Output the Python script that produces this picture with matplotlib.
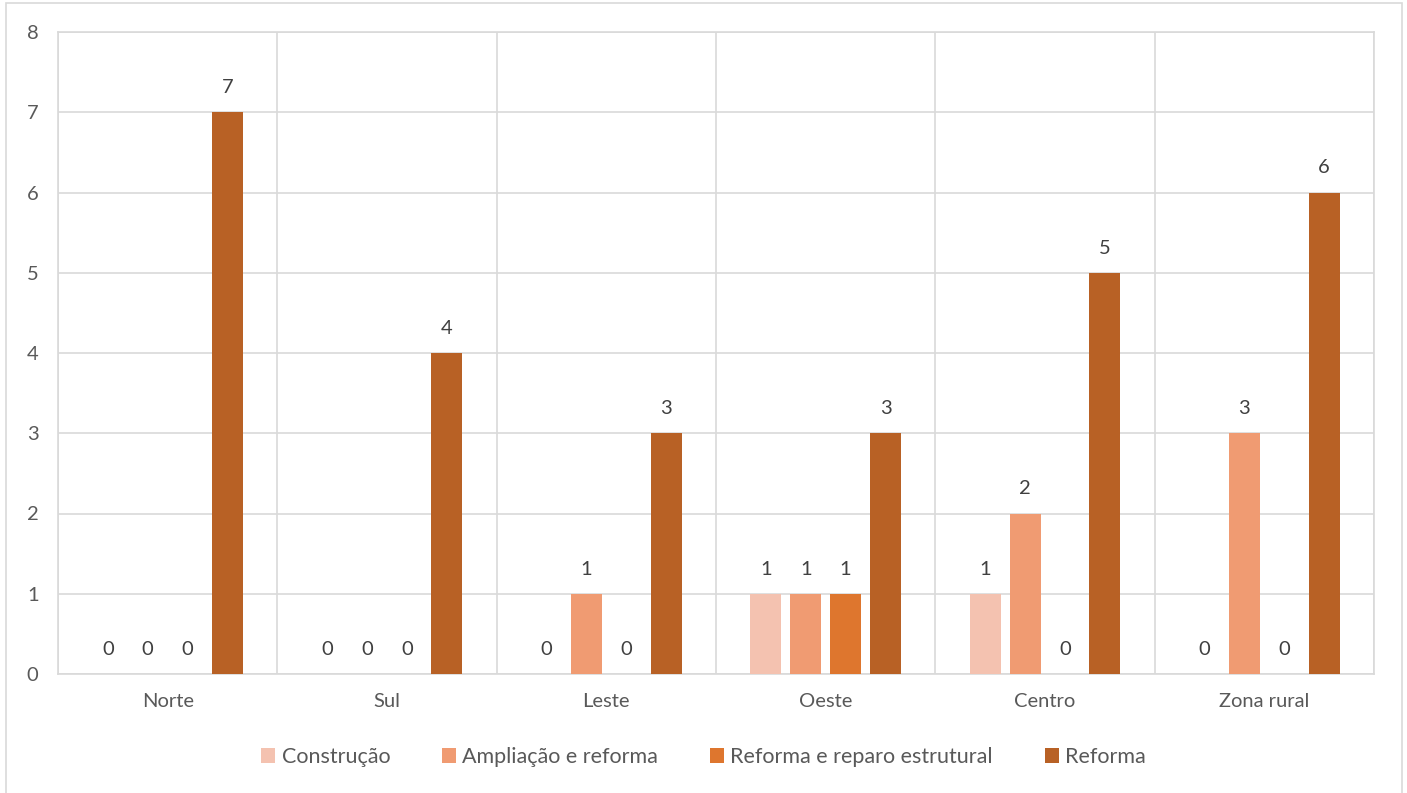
import matplotlib
matplotlib.use("Agg")
import matplotlib.pyplot as plt
from matplotlib.patches import Rectangle
import numpy as np

plt.rcParams['font.family'] = ['Lato', 'DejaVu Sans']

categories = ["Norte", "Sul", "Leste", "Oeste", "Centro", "Zona rural"]
series_names = ["Construção", "Ampliação e reforma", "Reforma e reparo estrutural", "Reforma"]
construcao = [0, 0, 0, 1, 1, 0]
ampliacao = [0, 0, 1, 1, 2, 3]
reparo = [0, 0, 0, 1, 0, 0]
reforma = [7, 4, 3, 3, 5, 6]
series = [construcao, ampliacao, reparo, reforma]
colors = ["#F4C2B0", "#F09B72", "#DE762E", "#B86125"]

W, H = 1407, 793
fig = plt.figure(figsize=(W / 100, H / 100), dpi=100)
ax = fig.add_axes([58 / W, (H - 674) / H, (1374 - 58) / W, (674 - 32) / H])

fig.patches.append(Rectangle((6 / W, -0.01), (1402 - 6) / W, 1 - 3 / H + 0.01,
                             transform=fig.transFigure, fill=False,
                             edgecolor="#D9D9D9", linewidth=1.2, zorder=0))

x = np.arange(len(categories))
bw = 0.141
step = 0.182
offsets = [-1.5 * step, -0.5 * step, 0.5 * step, 1.5 * step]
text_c = "#404040"
for vals, off, c, name in zip(series, offsets, colors, series_names):
    ax.bar(x + off, vals, width=bw, color=c, label=name, zorder=3)
    for xi, v in zip(x + off, vals):
        ax.text(xi, v + 0.2, f"{v}", ha="center", va="bottom",
                fontsize=14.5, color=text_c, zorder=4)

ax.set_xlim(-0.5, len(categories) - 0.5)
ax.set_ylim(0, 8)
ax.set_yticks(range(0, 9))
ax.set_xticks(x)
ax.set_xticklabels(categories)
ax.tick_params(axis='both', length=0, labelsize=14.5, labelcolor="#595959")
ax.tick_params(axis='x', pad=14)
ax.tick_params(axis='y', pad=14)

ax.grid(axis='y', color="#D9D9D9", linewidth=1.2, zorder=0)
for b in np.arange(-0.5, len(categories) + 0.5, 1):
    ax.axvline(b, color="#D9D9D9", linewidth=1.2, zorder=0)
for s in ax.spines.values():
    s.set_color("#D9D9D9")
    s.set_linewidth(1.2)

leg = fig.legend(loc="center", bbox_to_anchor=(0.5, (H - 757) / H), ncol=4,
                 frameon=False, fontsize=15.5, handlelength=0.65, handleheight=0.65,
                 handletextpad=0.3, columnspacing=2.4)
for t in leg.get_texts():
    t.set_color("#595959")

fig.savefig("out.png", dpi=100)
